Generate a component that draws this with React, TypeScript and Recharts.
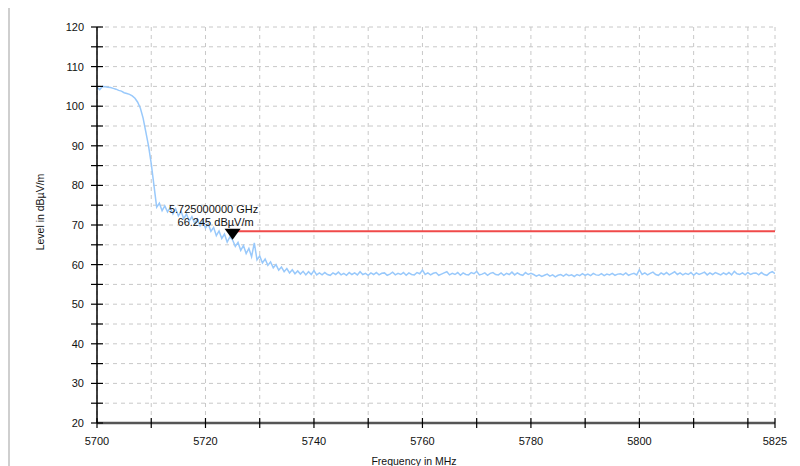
import { LineChart, Line, XAxis, YAxis, CartesianGrid, ReferenceLine, ReferenceDot } from "recharts"

// sweep settings
const startFreq = 5700
const stepMHz = 0.5

// measured level in dBµV/m, one value per 0.5 MHz step
const levels: number[] = [
  // 5700 - 5711
  104.8, 104.2, 105.0, 104.9, 104.8, 104.7, 104.5, 104.3, 104.0, 103.8, 103.4, 103.2,
  103.0, 102.6, 102.0, 101.0, 99.5, 97.0, 93.5, 90.0, 85.5, 80.0, 74.5,
  // 5711.5 - 5725
  75.5, 73.6, 74.8, 73.3, 74.4, 72.8, 74.1, 72.3, 73.4, 71.6, 72.8, 71.0, 72.1, 70.4,
  71.5, 69.8, 71.0, 69.2, 70.3, 68.4, 69.4, 67.3, 68.5, 66.6, 67.7, 65.7, 67.0, 66.2,
  // 5725.5 - 5740.5
  64.6, 65.6, 63.6, 64.8, 62.8, 64.1, 62.0, 65.5, 61.2, 62.2, 60.4, 61.4, 59.8, 60.7,
  59.2, 60.0, 58.6, 59.4, 58.2, 59.0, 57.9, 58.7, 57.7, 58.4, 57.6, 58.3, 57.4, 58.2,
  57.5, 58.5, 57.4,
  // 5741 - 5760
  57.9, 57.4, 58.0, 57.5, 57.3, 57.9, 57.5, 58.1, 57.4, 57.8, 57.3, 58.0, 57.5, 57.9,
  57.4, 58.2, 57.5, 57.8, 57.3, 57.9, 57.5, 58.0, 57.4, 57.8, 57.9, 57.3, 57.6, 58.1,
  57.4, 57.8, 57.5, 58.0, 57.3, 57.9, 57.5, 57.4, 58.0, 57.7, 58.6,
  // 5760.5 - 5780
  57.5, 57.9, 57.4, 57.8, 58.0, 57.3, 57.6, 57.9, 58.2, 57.4, 57.8, 57.5, 58.0, 57.3,
  57.9, 57.5, 57.4, 58.0, 57.7, 58.3, 57.4, 57.6, 57.9, 57.3, 57.8, 58.0, 57.5, 57.4,
  57.9, 57.3, 57.8, 57.5, 58.1, 57.4, 57.9, 57.5, 57.3, 58.0, 57.5, 57.8,
  // 5780.5 - 5800
  57.5, 57.1, 57.4, 57.0, 57.3, 57.6, 57.1, 57.4, 56.9, 57.3, 57.5, 57.1, 57.6, 57.2,
  57.4, 57.0, 57.5, 57.2, 57.7, 57.3, 57.6, 57.2, 57.8, 57.4, 57.3, 57.7, 57.2, 57.6,
  57.4, 57.8, 57.3, 57.6, 57.7, 57.4, 57.9, 57.3, 57.6, 57.8, 57.4, 58.7,
  // 5800.5 - 5825
  57.5, 57.9, 57.4, 57.8, 58.1, 57.5, 57.3, 57.9, 57.5, 58.0, 57.4, 57.8, 58.2, 57.5,
  57.9, 57.4, 57.8, 57.5, 58.0, 57.3, 57.9, 57.5, 57.8, 58.1, 57.4, 57.9, 57.5, 58.0,
  57.7, 57.4, 57.9, 57.5, 58.0, 57.4, 58.3, 57.7, 57.5, 57.9, 57.4, 58.0, 57.5, 57.8,
  57.9, 57.4, 58.0, 57.5, 57.3, 57.9, 58.2, 57.7,
]

const xTicks = [5700, 5710, 5720, 5730, 5740, 5750, 5760, 5770, 5780, 5790, 5800, 5810, 5820, 5825]
const xLabels = [5700, 5720, 5740, 5760, 5780, 5800, 5825]
const yTicks = [20, 25, 30, 35, 40, 45, 50, 55, 60, 65, 70, 75, 80, 85, 90, 95, 100, 105, 110, 115, 120]
const yLabels = [20, 30, 40, 50, 60, 70, 80, 90, 100, 110, 120]

// limit line and marker
const limitStart = 5725
const limitEnd = 5825
const limitLevel = 68.4
const markerFreq = 5725
const markerLevel = 66.245
const markerText = ["5.725000000 GHz", "66.245 dBµV/m"]

const data = levels.map((v, i) => ({ freq: startFreq + i * stepMHz, level: v }))

const font = "'Liberation Sans', Arial, sans-serif"

function YTick(props: any) {
  const { x, y, payload } = props
  const ax = x + 13
  return (
    <g>
      <line x1={ax - 6} x2={ax + 6} y1={y} y2={y} stroke="#000" strokeWidth={1.2} />
      {yLabels.includes(payload.value) && (
        <text x={x} y={y} dy={4} textAnchor="end" fontSize={11} fill="#111" fontFamily={font}>
          {payload.value}
        </text>
      )}
    </g>
  )
}

function XTick(props: any) {
  const { x, y, payload } = props
  const ay = y - 13
  return (
    <g>
      <line x1={x} x2={x} y1={ay - 5} y2={ay + 5} stroke="#000" strokeWidth={1.2} />
      {xLabels.includes(payload.value) && (
        <text x={x} y={ay + 22} textAnchor="middle" fontSize={11} fill="#111" fontFamily={font}>
          {payload.value}
        </text>
      )}
    </g>
  )
}

function Marker(props: any) {
  const { cx, cy } = props
  return (
    <g>
      <path d={`M${cx - 8},${cy - 11} L${cx + 8},${cy - 11} L${cx},${cy} Z`} fill="#000" />
      <text x={cx - 19} y={cy - 27} textAnchor="middle" fontSize={11} fill="#111" fontFamily={font}>
        {markerText[0]}
      </text>
      <text x={cx - 17} y={cy - 14} textAnchor="middle" fontSize={11} fill="#111" fontFamily={font}>
        {markerText[1]}
      </text>
    </g>
  )
}

export default function App() {
  return (
    <div style={{ position: "relative", width: 800, height: 466, margin: "-8px 0 0 -8px", overflow: "hidden", background: "#fff" }}>
      <div style={{ position: "absolute", left: 8, top: 5, width: 820, height: 480, border: "2px solid #cfcfcf" }} />
      <LineChart
        width={800}
        height={466}
        data={data}
        margin={{ top: 27, right: 25, bottom: 0, left: 0 }}
        style={{ position: "absolute", left: 0, top: 0 }}
      >
        <CartesianGrid stroke="#c8c8c8" strokeDasharray="4 4" />
        <XAxis
          dataKey="freq"
          type="number"
          domain={[5700, 5825]}
          ticks={xTicks}
          allowDataOverflow
          height={43}
          tickSize={6}
          tickMargin={7}
          tickLine={false}
          axisLine={{ stroke: "#555", strokeWidth: 2.5 }}
          tick={<XTick />}
          interval={0}
        />
        <YAxis
          type="number"
          domain={[20, 120]}
          ticks={yTicks}
          width={97}
          tickSize={6}
          tickMargin={7}
          tickLine={false}
          axisLine={{ stroke: "#000", strokeWidth: 1.5 }}
          tick={<YTick />}
          interval={0}
        />
        <Line
          dataKey="level"
          stroke="#99c9fb"
          strokeWidth={1.5}
          dot={false}
          isAnimationActive={false}
        />
        <ReferenceLine
          segment={[{ x: limitStart, y: limitLevel }, { x: limitEnd, y: limitLevel }]}
          stroke="#f04a4a"
          strokeWidth={2}
        />
        <ReferenceDot x={markerFreq} y={markerLevel} shape={<Marker />} />
      </LineChart>
      <div
        style={{
          position: "absolute", left: 40, top: 212, transform: "translate(-50%, -50%) rotate(-90deg)",
          fontFamily: font, fontSize: 10.5, color: "#111", whiteSpace: "nowrap",
        }}
      >
        Level in dBµV/m
      </div>
      <div
        style={{
          position: "absolute", left: 414, top: 461, transform: "translate(-50%, -50%)",
          fontFamily: font, fontSize: 10.5, color: "#111", whiteSpace: "nowrap",
        }}
      >
        Frequency in MHz
      </div>
    </div>
  )
}
